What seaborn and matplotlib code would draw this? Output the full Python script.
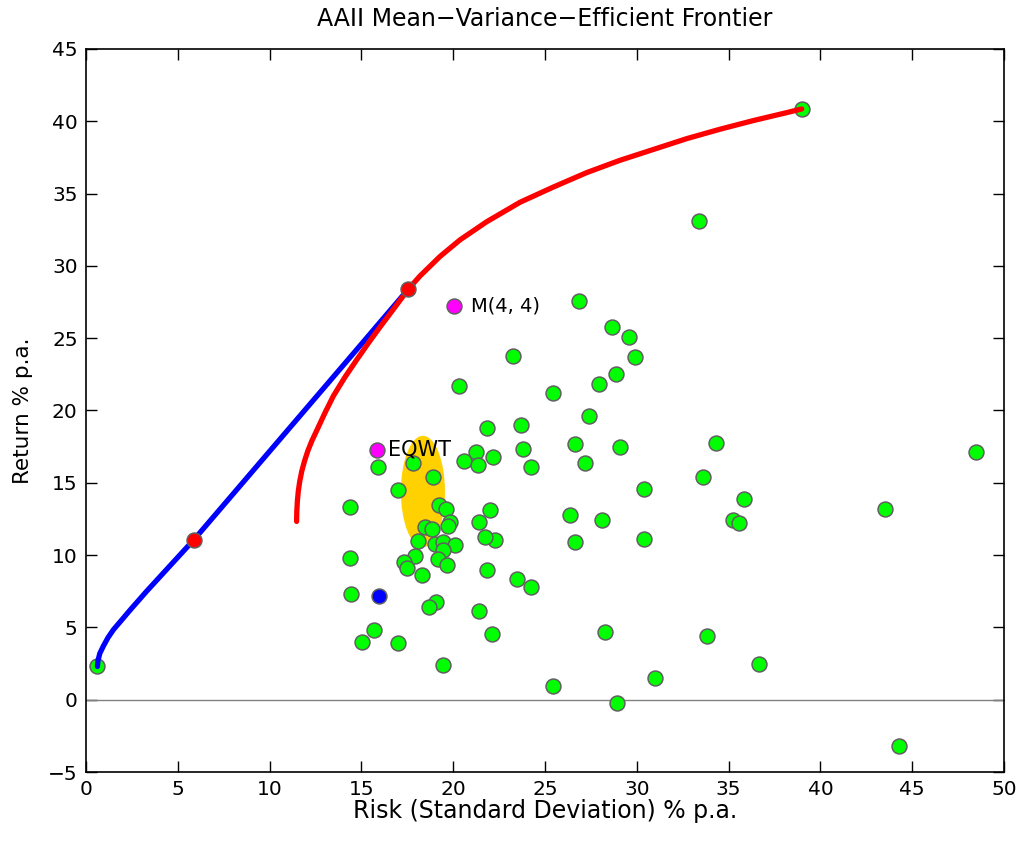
import numpy as np
import pandas as pd
import matplotlib
matplotlib.use("Agg")
import matplotlib.pyplot as plt
import seaborn as sns
from matplotlib.patches import Ellipse

# ---- data ----
asset_risk = [26.87, 28.65, 29.6, 23.27, 29.88, 28.85, 27.92, 25.45, 27.4, 23.69,
              26.65, 34.31, 23.78, 29.06, 27.18, 24.25, 33.58, 30.37, 35.82, 26.34,
              28.08, 35.22, 35.57, 22.28, 26.63, 30.39, 23.45, 24.25, 28.28, 33.82,
              36.65, 31.0, 25.45, 28.94, 21.82, 21.22, 17.83, 20.59, 22.15, 21.37,
              15.92, 18.92, 16.97, 14.4, 19.2, 19.59, 22.02, 19.83, 19.73, 21.42,
              18.46, 18.83, 21.71, 18.06, 18.99, 19.43, 20.08, 19.43, 14.36, 17.9,
              19.15, 17.32, 17.47, 19.68, 21.82, 18.3, 14.45, 19.05, 18.68, 21.38,
              15.7, 22.13, 15.03, 16.99, 19.46, 20.32, 33.4, 48.47, 43.52, 44.3,
              0.62, 38.98]
asset_return = [27.6, 25.8, 25.1, 23.8, 23.7, 22.5, 21.8, 21.2, 19.6, 19.0,
                17.7, 17.77, 17.36, 17.47, 16.4, 16.1, 15.4, 14.6, 13.9, 12.8,
                12.4, 12.4, 12.2, 11.07, 10.9, 11.1, 8.35, 7.8, 4.65, 4.4,
                2.45, 1.5, 0.95, -0.25, 18.8, 17.1, 16.4, 16.5, 16.8, 16.2,
                16.1, 15.4, 14.5, 13.35, 13.46, 13.2, 13.1, 12.3, 12.0, 12.26,
                11.96, 11.8, 11.25, 11.0, 10.77, 10.88, 10.72, 10.33, 9.82, 9.91,
                9.75, 9.54, 9.1, 9.29, 8.94, 8.6, 7.33, 6.76, 6.41, 6.15,
                4.84, 4.56, 3.99, 3.9, 2.37, 21.67, 33.1, 17.15, 13.2, -3.17,
                2.3, 40.85]

# frontier with riskless lending (blue)
blue_risk = [0.62, 0.65, 0.75, 0.94, 1.2, 1.49, 2.0, 2.4, 3.3, 4.21, 5.88,
             8.8, 11.7, 14.6, 17.56]
blue_return = [2.3, 2.7, 3.2, 3.7, 4.3, 4.84, 5.6, 6.2, 7.5, 8.76, 11.07,
               15.4, 19.7, 24.0, 28.4]

# efficient (red) frontier
red_risk = [11.47, 11.48, 11.51, 11.56, 11.64, 11.75, 11.9, 12.08, 12.3, 12.56,
            13.0, 13.47, 14.1, 14.74, 15.4, 16.0, 16.8, 17.56, 18.19, 19.28,
            20.37, 21.82, 23.64, 25.45, 27.27, 29.08, 30.9, 32.72, 34.53, 36.35,
            38.17, 38.98]
red_return = [12.33, 13.0, 13.7, 14.4, 15.1, 15.8, 16.5, 17.2, 17.9, 18.6,
              19.8, 21.0, 22.3, 23.5, 24.7, 25.75, 27.1, 28.4, 29.3, 30.65,
              31.8, 33.05, 34.4, 35.45, 36.45, 37.3, 38.05, 38.8, 39.45, 40.05,
              40.6, 40.85]

# highlighted portfolios
red_pts_risk = [5.88, 17.56]
red_pts_return = [11.07, 28.4]
blue_pt_risk = [15.96]
blue_pt_return = [7.2]
mag_labels = ["EQWT", "M(4, 4)"]
mag_risk = [15.83, 20.04]
mag_return = [17.3, 27.2]

# confidence ellipse
ell_center = (18.35, 14.4)
ell_width = 2.4
ell_height = 7.7

# ---- plotting ----
sns.set_style("ticks")
plt.rcParams['font.family'] = ['DejaVu Sans']
plt.rcParams['axes.unicode_minus'] = True
plt.rcParams['text.color'] = 'black'
plt.rcParams['axes.labelcolor'] = 'black'
plt.rcParams['xtick.color'] = 'black'
plt.rcParams['ytick.color'] = 'black'

fig = plt.figure(figsize=(10.23, 8.43), dpi=100)
ax = fig.add_axes([0.0841, 0.0842, 0.8973, 0.8577])

ax.axhline(0, color='#808080', lw=1, zorder=1)
ax.add_patch(Ellipse(ell_center, ell_width, ell_height, facecolor='#FFD100',
                     edgecolor='none', zorder=2))

assets = pd.DataFrame({"risk": asset_risk, "ret": asset_return})
sns.scatterplot(data=assets, x="risk", y="ret", s=115, color='#00FF00',
                edgecolor='#606060', linewidth=1.1, ax=ax, zorder=3)

sns.lineplot(x=blue_risk, y=blue_return, sort=False, estimator=None,
             color='#0000FF', lw=3.8, ax=ax, zorder=4)
sns.lineplot(x=red_risk, y=red_return, sort=False, estimator=None,
             color='#FF0000', lw=3.8, ax=ax, zorder=5)

sns.scatterplot(x=red_pts_risk, y=red_pts_return, s=115, color='#FF0000',
                edgecolor='#606060', linewidth=1.1, ax=ax, zorder=6)
sns.scatterplot(x=blue_pt_risk, y=blue_pt_return, s=115, color='#0000FF',
                edgecolor='#606060', linewidth=1.1, ax=ax, zorder=6)
sns.scatterplot(x=mag_risk, y=mag_return, s=115, color='#FF00FF',
                edgecolor='#606060', linewidth=1.1, ax=ax, zorder=6)

for lab, xr, yr, fs, off in zip(mag_labels, mag_risk, mag_return, [15, 14], [8, 12]):
    ax.annotate(lab, (xr, yr), xytext=(off, 0), textcoords='offset points',
                ha='left', va='center', fontsize=fs, color='black', zorder=7)

ax.set_xlim(0, 50)
ax.set_ylim(-5, 45)
ax.set_xticks(np.arange(0, 51, 5))
ax.set_yticks(np.arange(-5, 46, 5))
ax.tick_params(direction='in', length=8, width=1, top=True, right=True,
               labelsize=14.5, colors='black', labelcolor='black', pad=6)
for sp in ax.spines.values():
    sp.set_visible(True)
    sp.set_color('black')
    sp.set_linewidth(1.2)

ax.set_xlabel("Risk (Standard Deviation) % p.a.", fontsize=17, color='black')
ax.xaxis.set_label_coords(0.5, -0.037)
ax.set_ylabel("Return % p.a.", fontsize=15.5, color='black')
ax.yaxis.set_label_coords(-0.058, 0.5)
ax.set_title("AAII Mean\u2212Variance\u2212Efficient Frontier", fontsize=17,
             pad=16.5, color='black')

fig.savefig("out.png", dpi=100)
